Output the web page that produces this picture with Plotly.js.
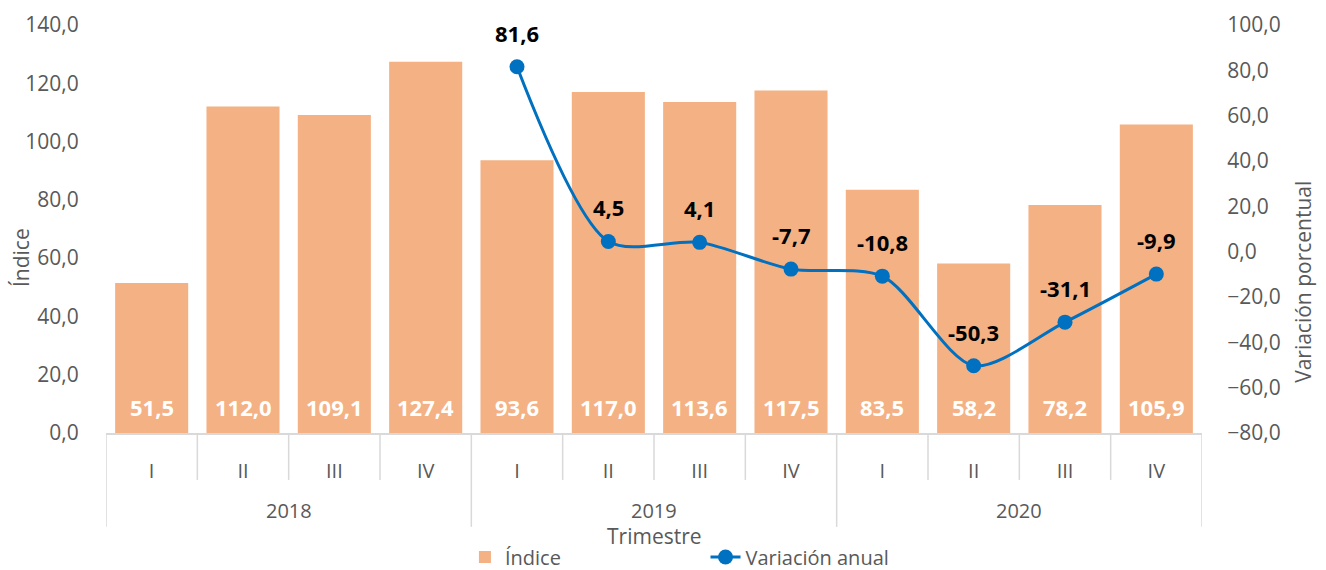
<!DOCTYPE html>
<html>
<head>
<meta charset="utf-8">
<script src="https://cdn.plot.ly/plotly-3.0.1.min.js"></script>
<style>html,body{margin:0;padding:0;background:#fff;}#chart{width:1326px;height:570px;}</style>
</head>
<body>
<div id="chart"></div>
<script>
const years = ["2018", "2019", "2020"];
const quarters = ["I", "II", "III", "IV"];
const indice = [51.5, 112.0, 109.1, 127.4, 93.6, 117.0, 113.6, 117.5, 83.5, 58.2, 78.2, 105.9];
const variacion = [null, null, null, null, 81.6, 4.5, 4.1, -7.7, -10.8, -50.3, -31.1, -9.9];

const FONT = '"Open Sans", sans-serif';
const GREY = '#595959';
const LINEC = '#d9d9d9';

const qLabels = [];
years.forEach(y => quarters.forEach(q => { qLabels.push(q); }));
const xs = qLabels.map((_, i) => i);
const fmt = v => v.toFixed(1).replace('.', ',');

const traces = [
  {
    type: 'bar', x: xs, y: indice, name: 'Índice', legend: 'legend',
    marker: {color: '#F4B183'}, width: 0.8, yaxis: 'y', hoverinfo: 'y'
  },
  {
    type: 'scatter', mode: 'lines+markers', x: xs, y: variacion, name: 'Variación anual',
    legend: 'legend2',
    yaxis: 'y2', line: {color: '#0070C0', width: 3, shape: 'spline', smoothing: 0.8},
    marker: {color: '#0070C0', size: 15}, connectgaps: false
  }
];

const annotations = [];
indice.forEach((v, i) => annotations.push({
  x: xs[i], y: 0, xref: 'x', yref: 'y', yanchor: 'middle', yshift: 26,
  text: '<b>' + fmt(v) + '</b>', showarrow: false,
  font: {family: FONT, size: 22, color: '#ffffff'}
}));
variacion.forEach((v, i) => { if (v !== null) annotations.push({
  x: xs[i], y: v, xref: 'x', yref: 'y2', yanchor: 'middle', yshift: 34,
  text: '<b>' + fmt(v) + '</b>', showarrow: false,
  font: {family: FONT, size: 22, color: '#000000'}
}); });
years.forEach((y, k) => annotations.push({
  x: k * quarters.length + (quarters.length - 1) / 2, y: -0.19, xref: 'x', yref: 'paper',
  yanchor: 'middle', text: y, showarrow: false, font: {family: FONT, size: 20, color: GREY}
}));
annotations.push({x: 0.5, y: -0.253, xref: 'paper', yref: 'paper', yanchor: 'middle',
  text: 'Trimestre', showarrow: false, font: {family: FONT, size: 21, color: GREY}});
annotations.push({x: -0.078, y: 0.43, xref: 'paper', yref: 'paper', xanchor: 'center', yanchor: 'middle',
  text: 'Índice', textangle: -90, showarrow: false, font: {family: FONT, size: 21, color: GREY}});
annotations.push({x: 1.092, y: 0.37, xref: 'paper', yref: 'paper', xanchor: 'center', yanchor: 'middle',
  text: 'Variación porcentual', textangle: -90, showarrow: false, font: {family: FONT, size: 21, color: GREY}});

const shapes = [];
for (let i = 0; i <= xs.length; i++) {
  const isYear = i % quarters.length === 0;
  shapes.push({type: 'line', xref: 'x', yref: 'paper', x0: i - 0.5, x1: i - 0.5,
    y0: 0, y1: isYear ? -0.23 : -0.115, line: {color: LINEC, width: 1.5}});
}

const legendBase = {orientation: 'h', y: -0.304, yanchor: 'middle', xanchor: 'left',
  font: {family: FONT, size: 20, color: GREY}, bgcolor: 'rgba(0,0,0,0)'};

const layout = {
  width: 1326, height: 570,
  margin: {l: 106, r: 124, t: 25, b: 137, autoexpand: false},
  paper_bgcolor: '#fff', plot_bgcolor: '#fff',
  separators: ',.',
  showlegend: true,
  legend: Object.assign({}, legendBase, {x: 0.3275}),
  legend2: Object.assign({}, legendBase, {x: 0.547}),
  xaxis: {
    range: [-0.5, xs.length - 0.5], tickvals: xs, ticktext: qLabels,
    showgrid: false, zeroline: false, showline: true, linecolor: LINEC, linewidth: 1.5,
    ticks: 'outside', ticklen: 19, tickcolor: 'rgba(0,0,0,0)',
    tickfont: {family: FONT, size: 20, color: GREY}, fixedrange: true
  },
  yaxis: {
    range: [0, 140], dtick: 20, tickformat: '.1f', showgrid: false, zeroline: false,
    showline: false, ticks: 'outside', ticklen: 22, tickcolor: 'rgba(0,0,0,0)',
    tickfont: {family: FONT, size: 21, color: GREY}
  },
  yaxis2: {
    overlaying: 'y', side: 'right', range: [-80, 100], dtick: 20, tickformat: '.1f',
    showgrid: false, zeroline: false, showline: false, ticks: 'outside', ticklen: 20,
    tickcolor: 'rgba(0,0,0,0)', tickfont: {family: FONT, size: 21, color: GREY}
  },
  annotations: annotations,
  shapes: shapes,
  bargap: 0.2
};

Plotly.newPlot('chart', traces, layout, {displayModeBar: false, staticPlot: true});
</script>
</body>
</html>
